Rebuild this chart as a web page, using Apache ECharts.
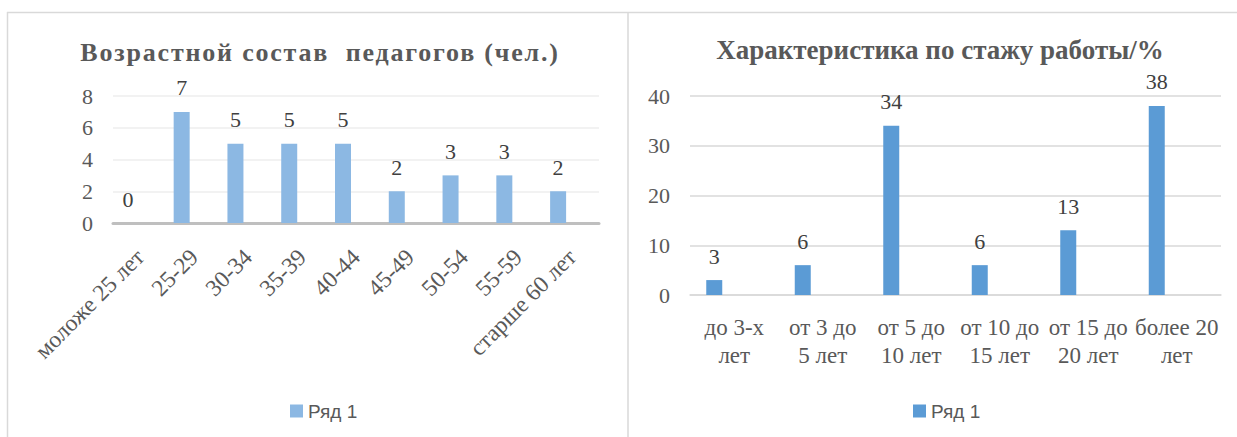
<!DOCTYPE html>
<html><head><meta charset="utf-8">
<script src="https://cdn.jsdelivr.net/npm/echarts@6/dist/echarts.min.js"></script>
<style>html,body{margin:0;padding:0;background:#fff}#c{width:1237px;height:437px}</style>
</head><body><div id="c"></div>
<script>
const ageTitle = 'Возрастной состав  педагогов (чел.)';
const ageCategories = ['моложе 25 лет','25-29','30-34','35-39','40-44','45-49','50-54','55-59','старше 60 лет'];
const ageValues = [0,7,5,5,5,2,3,3,2];
const ageTicks = [0,2,4,6,8];
const expTitle = 'Характеристика по стажу работы/%';
const expCategories = ['до 3-х\nлет','от 3 до\n5 лет','от 5 до\n10 лет','от 10 до\n15 лет','от 15 до\n20 лет','более 20\nлет'];
const expValues = [3,6,34,6,13,38];
const expTicks = [0,10,20,30,40];
const seriesName = 'Ряд 1';

const SERIF = '"Liberation Serif", "Times New Roman", serif';
const SANS = '"Liberation Sans", Arial, sans-serif';
const GRAY = '#595959';

function yAxisFor(ticks, gridIndex, visible, split) {
  return {
    type: 'value', gridIndex: gridIndex,
    min: ticks[0], max: ticks[ticks.length - 1], interval: ticks[1] - ticks[0],
    show: visible,
    axisLine: {show: false}, axisTick: {show: false},
    axisLabel: {show: visible, fontFamily: SERIF, fontSize: 22, color: GRAY, margin: 20, padding: [12, 0, 0, 0]},
    splitLine: {show: visible, lineStyle: {color: split.color, width: split.width}}
  };
}

const chart = echarts.init(document.getElementById('c'), null, {renderer: 'svg'});
chart.setOption({
  animation: false,
  backgroundColor: '#fff',
  graphic: [
    {type: 'line', shape: {x1: 7, y1: 12.5, x2: 1237, y2: 12.5}, style: {stroke: '#d9d9d9', lineWidth: 1.5}, silent: true},
    {type: 'line', shape: {x1: 7.5, y1: 12, x2: 7.5, y2: 437}, style: {stroke: '#d9d9d9', lineWidth: 1.5}, silent: true},
    {type: 'line', shape: {x1: 628, y1: 12, x2: 628, y2: 437}, style: {stroke: '#d9d9d9', lineWidth: 1.5}, silent: true},
    {type: 'text', x: 320, y: 52, style: {text: ageTitle, fill: GRAY, font: 'bold 26px ' + SERIF, textAlign: 'center', textVerticalAlign: 'middle'}},
    {type: 'text', x: 940, y: 50, style: {text: expTitle, fill: GRAY, font: 'bold 27px ' + SERIF, textAlign: 'center', textVerticalAlign: 'middle'}}
  ],
  legend: [
    {left: 285, top: 396, itemWidth: 13, itemHeight: 13, itemGap: 6, icon: 'rect',
     textStyle: {fontFamily: SANS, fontSize: 19, color: GRAY, lineHeight: 20},
     data: [{name: seriesName, itemStyle: {color: '#8cb8e3'}}], selectedMode: false},
    {left: 908, top: 396, itemWidth: 13, itemHeight: 13, itemGap: 6, icon: 'rect',
     textStyle: {fontFamily: SANS, fontSize: 19, color: GRAY, lineHeight: 20},
     data: [{name: seriesName, itemStyle: {color: '#5b9bd5'}}], selectedMode: false}
  ],
  grid: [
    {left: 113, top: 96, width: 486, height: 127},
    {left: 101, top: 96, width: 484, height: 127},
    {left: 690, top: 96, width: 531, height: 199},
    {left: 670, top: 96, width: 531, height: 199}
  ],
  xAxis: [
    {type: 'category', gridIndex: 0, data: ageCategories,
     axisLine: {show: true, lineStyle: {color: '#bfbfbf', width: 3}}, axisTick: {show: false},
     axisLabel: {interval: 0, rotate: 45, fontFamily: SERIF, fontSize: 23.5, color: GRAY, margin: 30}},
    {type: 'category', gridIndex: 1, data: ageCategories, show: false},
    {type: 'category', gridIndex: 2, data: expCategories,
     axisLine: {show: true, lineStyle: {color: '#d9d9d9', width: 1.5}}, axisTick: {show: false},
     axisLabel: {interval: 0, fontFamily: SERIF, fontSize: 23, color: GRAY, margin: 18, lineHeight: 28}},
    {type: 'category', gridIndex: 3, data: expCategories, show: false}
  ],
  yAxis: [
    yAxisFor(ageTicks, 0, true, {color: '#eeeeee', width: 1.5}),
    yAxisFor(ageTicks, 1, false, {color: '#fff', width: 1}),
    yAxisFor(expTicks, 2, true, {color: '#d9d9d9', width: 1.5}),
    yAxisFor(expTicks, 3, false, {color: '#fff', width: 1})
  ],
  series: [
    {name: seriesName, type: 'bar', xAxisIndex: 1, yAxisIndex: 1, data: ageValues, barWidth: 16,
     itemStyle: {color: '#8cb8e3'},
     label: {show: true, position: 'top', distance: 13, fontFamily: SERIF, fontSize: 22, color: '#404040'}},
    {name: seriesName, type: 'bar', xAxisIndex: 3, yAxisIndex: 3, data: expValues, barWidth: 16,
     itemStyle: {color: '#5b9bd5'},
     label: {show: true, position: 'top', distance: 13, fontFamily: SERIF, fontSize: 22, color: '#404040'}}
  ]
});
// Excel draws the left title with wide letter spacing
document.querySelectorAll('#c svg text').forEach(function (t) {
  if (t.textContent.replace(/\s+/g, ' ') === ageTitle.replace(/\s+/g, ' ')) {
    t.setAttribute('letter-spacing', '1.8');
    t.style.letterSpacing = '1.8px';
  }
});
</script>
</body></html>
